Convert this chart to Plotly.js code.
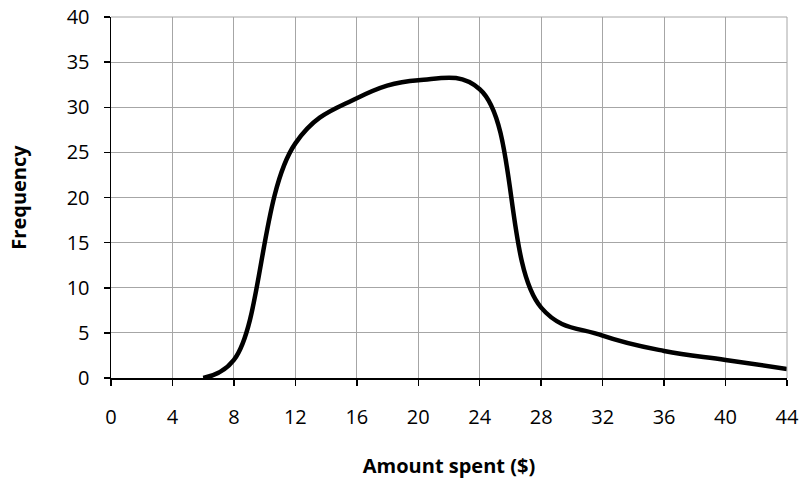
<!DOCTYPE html>
<html>
<head>
<meta charset="utf-8">
<script src="https://cdn.plot.ly/plotly-3.0.1.min.js"></script>
<style>html,body{margin:0;padding:0;background:#fff;}#chart{width:803px;height:492px;}</style>
</head>
<body>
<div id="chart"></div>
<script>
const amountSpent = [6, 8, 12, 16, 20, 24, 28, 32, 36, 40, 44];
const frequency = [0, 2, 26, 31, 33, 32, 7.8, 4.7, 3, 2, 1];
const xTicks = [0, 4, 8, 12, 16, 20, 24, 28, 32, 36, 40, 44];
const yTicks = [0, 5, 10, 15, 20, 25, 30, 35, 40];

const font = 'Open Sans, Liberation Sans, sans-serif';
Plotly.newPlot('chart', [{
  x: amountSpent,
  y: frequency,
  type: 'scatter',
  mode: 'lines',
  line: {color: '#000', width: 4.5, shape: 'spline', smoothing: 1.15},
  hoverinfo: 'none'
}], {
  width: 803, height: 492,
  margin: {l: 111, r: 16, t: 17, b: 114},
  paper_bgcolor: '#fff', plot_bgcolor: '#fff',
  showlegend: false,
  font: {family: font, size: 20, color: '#000'},
  xaxis: {
    range: [0, 44], tickvals: xTicks, ticktext: xTicks.map(String),
    showgrid: true, gridcolor: '#a6a6a6', gridwidth: 1,
    showline: true, linecolor: '#000', linewidth: 1.5,
    ticks: 'outside', ticklen: 6, tickcolor: '#000', tickwidth: 1.5,
    ticklabelstandoff: 14, zeroline: false, fixedrange: true,
    title: {text: '<b>Amount spent ($)</b>', font: {size: 20}, standoff: 30}
  },
  yaxis: {
    range: [0, 40], tickvals: yTicks, ticktext: yTicks.map(String),
    showgrid: true, gridcolor: '#a6a6a6', gridwidth: 1,
    showline: true, linecolor: '#000', linewidth: 1.5,
    ticks: 'outside', ticklen: 6, tickcolor: '#000', tickwidth: 1.5,
    ticklabelstandoff: 10, zeroline: false, fixedrange: true,
    title: {text: '<b>Frequency</b>', font: {size: 20}, standoff: 34}
  },
  shapes: [
    {type: 'line', xref: 'paper', yref: 'paper', x0: 1, x1: 1, y0: 0, y1: 1, line: {color: '#a6a6a6', width: 1}},
    {type: 'line', xref: 'paper', yref: 'paper', x0: 0, x1: 1, y0: 1, y1: 1, line: {color: '#a6a6a6', width: 1}}
  ]
}, {staticPlot: true});
</script>
</body>
</html>
